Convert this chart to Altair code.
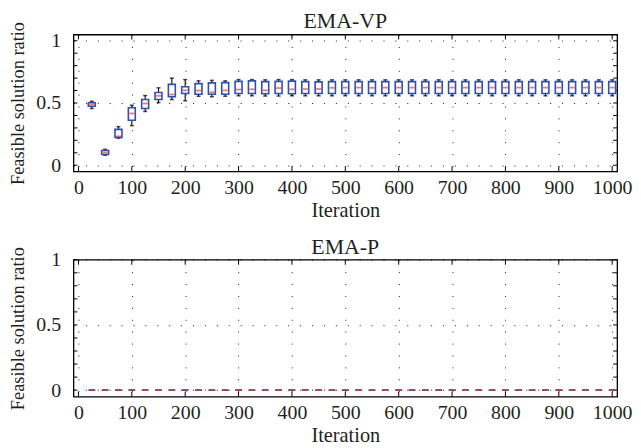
import altair as alt
import pandas as pd

# ---------------- data ----------------
iters = list(range(25, 1001, 25))  # 40 boxes

vp_med = [0.488, 0.101, 0.232, 0.416, 0.496, 0.558, 0.568, 0.602, 0.600, 0.586,
          0.602, 0.608, 0.610, 0.602, 0.620, 0.610, 0.612, 0.612, 0.622, 0.624,
          0.624, 0.622, 0.624, 0.624, 0.624, 0.624, 0.624, 0.624, 0.624, 0.624,
          0.624, 0.624, 0.624, 0.624, 0.624, 0.624, 0.624, 0.624, 0.624, 0.624]
vp_q1 = [0.474, 0.086, 0.224, 0.362, 0.456, 0.528, 0.550, 0.576, 0.570, 0.570,
         0.570, 0.576, 0.576, 0.574, 0.576, 0.574, 0.576, 0.576, 0.576, 0.576,
         0.576, 0.576, 0.576, 0.576, 0.576, 0.576, 0.576, 0.576, 0.576, 0.576,
         0.576, 0.576, 0.576, 0.576, 0.576, 0.576, 0.576, 0.576, 0.576, 0.576]
vp_q3 = [0.502, 0.118, 0.288, 0.462, 0.528, 0.584, 0.650, 0.630, 0.656, 0.662,
         0.664, 0.674, 0.678, 0.672, 0.674, 0.676, 0.672, 0.670, 0.672, 0.672,
         0.672, 0.672, 0.672, 0.672, 0.672, 0.672, 0.672, 0.672, 0.672, 0.672,
         0.672, 0.672, 0.672, 0.672, 0.672, 0.672, 0.672, 0.672, 0.672, 0.672]
vp_lo = [0.456, 0.080, 0.216, 0.318, 0.432, 0.504, 0.528, 0.518, 0.554, 0.550,
         0.554, 0.558, 0.558, 0.556, 0.556, 0.558, 0.558, 0.558, 0.558, 0.558,
         0.558, 0.558, 0.558, 0.558, 0.558, 0.558, 0.558, 0.558, 0.558, 0.558,
         0.558, 0.558, 0.558, 0.558, 0.558, 0.558, 0.558, 0.558, 0.558, 0.558]
vp_hi = [0.514, 0.128, 0.310, 0.482, 0.560, 0.622, 0.700, 0.688, 0.678, 0.682,
         0.678, 0.688, 0.688, 0.686, 0.688, 0.688, 0.686, 0.686, 0.686, 0.686,
         0.686, 0.686, 0.686, 0.686, 0.686, 0.686, 0.686, 0.686, 0.686, 0.686,
         0.686, 0.686, 0.686, 0.686, 0.686, 0.686, 0.686, 0.686, 0.686, 0.686]

p_med = [0.0] * 40
p_q1 = [0.0] * 40
p_q3 = [0.0] * 40
p_lo = [0.0] * 40
p_hi = [0.0] * 40

x_ticks = [0, 100, 200, 300, 400, 500, 600, 700, 800, 900, 1000]
y_labels = [0, 0.5, 1]
y_minor = [0, 0.1, 0.2, 0.3, 0.4, 0.5, 0.6, 0.7, 0.8, 0.9, 1.0]

FONT = "Liberation Serif"
LFS = 20      # tick labels
XTFS = 20.5   # x title
YTFS = 18.5   # y title
TFS = 22      # panel titles
TXT = "#231f20"
BLUE = "#2f4fb0"
RED = "#f03c3c"
W, H = 548, 138


def panel(med, q1, q3, lo, hi, title, ymax):
    df = pd.DataFrame({"iter": iters, "med": med, "q1": q1, "q3": q3,
                       "lo": lo, "hi": hi})
    xt = pd.DataFrame({"iter": x_ticks})
    yt = pd.DataFrame({"q1": y_minor})

    xs = alt.Scale(domain=[0, 1000], nice=False)
    ys = alt.Scale(domain=[-0.05, ymax], nice=False, zero=False)
    xaxis = alt.Axis(values=x_ticks, format="d", grid=True, gridDash=[1, 11],
                     gridColor="black", gridOpacity=0.9, ticks=False, tickSize=0,
                     domain=False, labelPadding=6, title="Iteration",
                     titlePadding=3, labelFlush=False,
                     labelFont=FONT, titleFont=FONT, labelFontSize=LFS, titleFontSize=XTFS,
                     labelColor=TXT, titleColor=TXT, titleFontWeight="normal")
    yaxis = alt.Axis(values=y_labels, format="~g", grid=True, gridDash=[1, 11],
                     gridColor="black", gridOpacity=0.9, ticks=False, tickSize=0,
                     domain=False, labelPadding=13, title="Feasible solution ratio",
                     titlePadding=8,
                     labelFont=FONT, titleFont=FONT, labelFontSize=LFS, titleFontSize=YTFS,
                     labelColor=TXT, titleColor=TXT, titleFontWeight="normal")

    def X(f):
        return alt.X(f, type="quantitative", scale=xs, axis=xaxis)

    def Y(f):
        return alt.Y(f, type="quantitative", scale=ys, axis=yaxis)

    base = alt.Chart(df)
    whisk = base.mark_rule(color="black", strokeWidth=1.1).encode(
        x=X("iter"), y=Y("lo"), y2=alt.Y2("hi"))
    caplo = base.mark_tick(orient="horizontal", color="black", size=4, thickness=1.5).encode(
        x=X("iter"), y=Y("lo"))
    caphi = base.mark_tick(orient="horizontal", color="black", size=4, thickness=1.5).encode(
        x=X("iter"), y=Y("hi"))
    box = base.mark_bar(fill="white", stroke=BLUE, strokeWidth=1.6, size=7).encode(
        x=X("iter"), y=Y("q1"), y2=alt.Y2("q3"))
    medm = base.mark_tick(orient="horizontal", color=RED, size=5, thickness=1.8).encode(
        x=X("iter"), y=Y("med"))

    tick_top = alt.Chart(xt).mark_rule(color="black").encode(
        x=X("iter"), y=alt.value(0), y2=alt.value(5))
    tick_bot = alt.Chart(xt).mark_rule(color="black").encode(
        x=X("iter"), y=alt.value(H), y2=alt.value(H - 5))
    tick_l = alt.Chart(yt).mark_rule(color="black").encode(
        y=Y("q1"), x=alt.value(0), x2=alt.value(4))
    tick_r = alt.Chart(yt).mark_rule(color="black").encode(
        y=Y("q1"), x=alt.value(W - 4), x2=alt.value(W))

    return alt.layer(tick_top, tick_bot, tick_l, tick_r, whisk, caplo, caphi, box, medm).properties(
        width=W, height=H,
        title=alt.TitleParams(title, font=FONT, fontSize=TFS, fontWeight="normal",
                              color=TXT, offset=-12))


top = panel(vp_med, vp_q1, vp_q3, vp_lo, vp_hi, "EMA-VP", 1.05)
bot = panel(p_med, p_q1, p_q3, p_lo, p_hi, "EMA-P", 1.0)

chart = alt.vconcat(top, bot, spacing=13).properties(
    padding=0, background="white"
).configure_view(
    stroke="black", strokeWidth=1.3
)

chart.save("out.html", embed_options={"renderer": "svg", "actions": False})
